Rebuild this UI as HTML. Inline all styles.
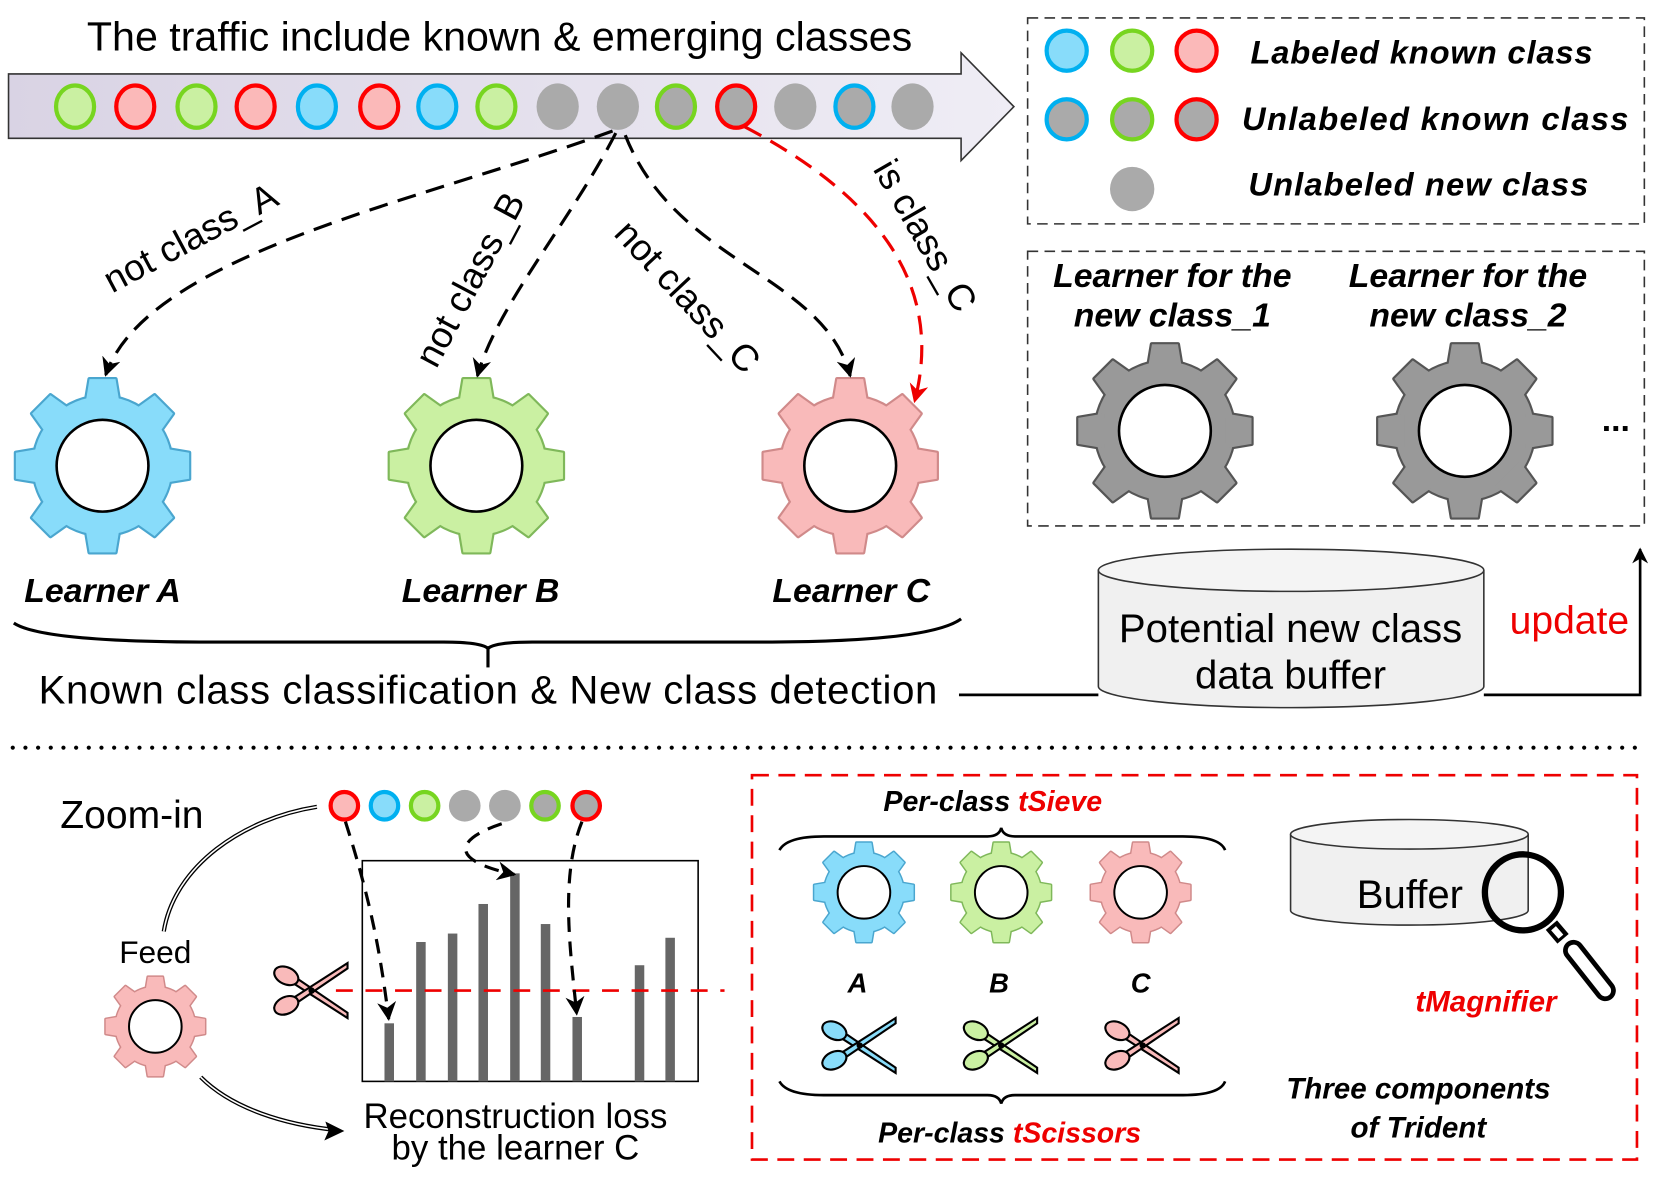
<!DOCTYPE html>
<html><head><meta charset="utf-8"><style>
html,body{margin:0;padding:0;background:#fff}
svg{display:block}
text{font-family:"Liberation Sans",sans-serif}
.bi{font-style:italic;font-weight:bold}
</style></head><body>
<svg width="1655" height="1187" viewBox="0 0 1567 1124" xmlns="http://www.w3.org/2000/svg">
<defs>
<linearGradient id="ag" x1="0" x2="1"><stop offset="0" stop-color="#d9d3e4"/><stop offset="1" stop-color="#efedf5"/></linearGradient>
<g id="gshape">
<circle r="0.8"/>
<g id="tooth"><polygon points="-0.2,-0.7 -0.15,-1 0.15,-1 0.2,-0.7"/></g>
<use href="#tooth" transform="rotate(45)"/><use href="#tooth" transform="rotate(90)"/><use href="#tooth" transform="rotate(135)"/>
<use href="#tooth" transform="rotate(180)"/><use href="#tooth" transform="rotate(225)"/><use href="#tooth" transform="rotate(270)"/><use href="#tooth" transform="rotate(315)"/>
</g>
<marker id="ah" viewBox="0 0 10 10" refX="9" refY="5" markerWidth="6" markerHeight="6" orient="auto-start-reverse"><path d="M0,0 L10,5 L0,10 L3,5z" fill="#000"/></marker>
<marker id="ahr" viewBox="0 0 10 10" refX="9" refY="5" markerWidth="6" markerHeight="6" orient="auto"><path d="M0,0 L10,5 L0,10 L3,5z" fill="#e00"/></marker>
<g id="sc">
<polygon points="-16,-13 34,21 34,26 -19,-8" />
<polygon points="-16,13 34,-21 34,-26 -19,8" />
<ellipse cx="-24" cy="-14" rx="12" ry="8" transform="rotate(25 -24 -14)"/>
<ellipse cx="-24" cy="14" rx="12" ry="8" transform="rotate(-25 -24 14)"/>
<circle r="2" fill="#000"/>
</g>
</defs>

<g stroke-linejoin="round">
<g transform="translate(97,441) scale(82)"><use href="#gshape" fill="#4aa6cf" stroke="#4aa6cf" stroke-width="0.05"/><use href="#gshape" fill="#88dcfa"/><circle r="0.53" fill="#fff" stroke="#000" stroke-width="0.03"/></g>
<g transform="translate(451,441) scale(82)"><use href="#gshape" fill="#7fb85a" stroke="#7fb85a" stroke-width="0.05"/><use href="#gshape" fill="#caf0a2"/><circle r="0.53" fill="#fff" stroke="#000" stroke-width="0.03"/></g>
<g transform="translate(805,441) scale(82)"><use href="#gshape" fill="#d08a8a" stroke="#d08a8a" stroke-width="0.05"/><use href="#gshape" fill="#f9baba"/><circle r="0.53" fill="#fff" stroke="#000" stroke-width="0.03"/></g>
<g transform="translate(1103,408) scale(82)"><use href="#gshape" fill="#555" stroke="#555" stroke-width="0.05"/><use href="#gshape" fill="#999"/><circle r="0.53" fill="#fff" stroke="#000" stroke-width="0.03"/></g>
<g transform="translate(1387,408) scale(82)"><use href="#gshape" fill="#555" stroke="#555" stroke-width="0.05"/><use href="#gshape" fill="#999"/><circle r="0.53" fill="#fff" stroke="#000" stroke-width="0.03"/></g>
<g transform="translate(147,972) scale(47)"><use href="#gshape" fill="#d08a8a" stroke="#d08a8a" stroke-width="0.06"/><use href="#gshape" fill="#f9baba"/><circle r="0.53" fill="#fff" stroke="#000" stroke-width="0.04"/></g>
<g transform="translate(818,845) scale(47)"><use href="#gshape" fill="#4aa6cf" stroke="#4aa6cf" stroke-width="0.06"/><use href="#gshape" fill="#88dcfa"/><circle r="0.53" fill="#fff" stroke="#000" stroke-width="0.04"/></g>
<g transform="translate(948,845) scale(47)"><use href="#gshape" fill="#7fb85a" stroke="#7fb85a" stroke-width="0.06"/><use href="#gshape" fill="#caf0a2"/><circle r="0.53" fill="#fff" stroke="#000" stroke-width="0.04"/></g>
<g transform="translate(1080,845) scale(47)"><use href="#gshape" fill="#d08a8a" stroke="#d08a8a" stroke-width="0.06"/><use href="#gshape" fill="#f9baba"/><circle r="0.53" fill="#fff" stroke="#000" stroke-width="0.04"/></g>
</g>

<text x="473" y="48" font-size="39" text-anchor="middle">The traffic include known &amp; emerging classes</text>
<path d="M8,70 H910 V50 L960,101 L910,152 V131 H8 Z" fill="url(#ag)" stroke="#333" stroke-width="1.5"/>
<g stroke-width="4">
<ellipse cx="71" cy="101" rx="18" ry="20" fill="#caf0a2" stroke="#77d520"/>
<ellipse cx="128" cy="101" rx="18" ry="20" fill="#fbb9b9" stroke="#f00"/>
<ellipse cx="186" cy="101" rx="18" ry="20" fill="#caf0a2" stroke="#77d520"/>
<ellipse cx="242" cy="101" rx="18" ry="20" fill="#fbb9b9" stroke="#f00"/>
<ellipse cx="300" cy="101" rx="18" ry="20" fill="#88dcfa" stroke="#00b0f0"/>
<ellipse cx="359" cy="101" rx="18" ry="20" fill="#fbb9b9" stroke="#f00"/>
<ellipse cx="414" cy="101" rx="18" ry="20" fill="#88dcfa" stroke="#00b0f0"/>
<ellipse cx="470" cy="101" rx="18" ry="20" fill="#caf0a2" stroke="#77d520"/>
<ellipse cx="528" cy="101" rx="20" ry="22" fill="#aaa"/>
<ellipse cx="585" cy="101" rx="20" ry="22" fill="#aaa"/>
<ellipse cx="640" cy="101" rx="18" ry="20" fill="#aaa" stroke="#77d520"/>
<ellipse cx="697" cy="101" rx="18" ry="20" fill="#aaa" stroke="#f00"/>
<ellipse cx="753" cy="101" rx="20" ry="22" fill="#aaa"/>
<ellipse cx="809" cy="101" rx="18" ry="20" fill="#aaa" stroke="#00b0f0"/>
<ellipse cx="864" cy="101" rx="20" ry="22" fill="#aaa"/>
</g>

<rect x="973" y="17" width="584" height="195" fill="none" stroke="#333" stroke-width="1.5" stroke-dasharray="10,6"/>
<g stroke-width="4">
<circle cx="1010" cy="48" r="19" fill="#88dcfa" stroke="#00b0f0"/>
<circle cx="1072" cy="48" r="19" fill="#caf0a2" stroke="#77d520"/>
<circle cx="1133" cy="48" r="19" fill="#fbb9b9" stroke="#f00"/>
<circle cx="1010" cy="113" r="19" fill="#aaa" stroke="#00b0f0"/>
<circle cx="1072" cy="113" r="19" fill="#aaa" stroke="#77d520"/>
<circle cx="1133" cy="113" r="19" fill="#aaa" stroke="#f00"/>
<circle cx="1072" cy="179" r="21" fill="#aaa"/>
</g>
<text class="bi" x="1184" y="60" font-size="31" textLength="324">Labeled known class</text>
<text class="bi" x="1176" y="123" font-size="31" textLength="366">Unlabeled known class</text>
<text class="bi" x="1182" y="185" font-size="31" textLength="322">Unlabeled new class</text>

<rect x="973" y="238" width="584" height="260" fill="none" stroke="#333" stroke-width="1.5" stroke-dasharray="10,6"/>
<text class="bi" x="1110" y="272" font-size="32" text-anchor="middle">Learner for the</text>
<text class="bi" x="1110" y="309" font-size="32" text-anchor="middle">new class_1</text>
<text class="bi" x="1390" y="272" font-size="32" text-anchor="middle">Learner for the</text>
<text class="bi" x="1390" y="309" font-size="32" text-anchor="middle">new class_2</text>
<text x="1530" y="408" font-size="32" text-anchor="middle" font-weight="bold">...</text>

<g fill="none" stroke="#000" stroke-width="3" stroke-dasharray="18,10">
<path d="M580,124 C400,190 140,240 100,355" marker-end="url(#ah)"/>
<path d="M583,126 C540,210 470,290 452,356" marker-end="url(#ah)"/>
<path d="M592,128 C640,250 780,260 805,356" marker-end="url(#ah)"/>
</g>
<path d="M705,120 C800,170 900,250 866,380" fill="none" stroke="#e00" stroke-width="3" stroke-dasharray="18,10" marker-end="url(#ahr)"/>
<text x="0" y="0" font-size="35" transform="translate(106,278) rotate(-28)">not class_A</text>
<text x="0" y="0" font-size="35" transform="translate(413,350) rotate(-62)">not class_B</text>
<text x="0" y="0" font-size="35" transform="translate(580,222) rotate(47)">not class_C</text>
<text x="0" y="0" font-size="35" transform="translate(826,160) rotate(60)">is class_C</text>

<text class="bi" x="97" y="570" font-size="32" text-anchor="middle">Learner A</text>
<text class="bi" x="455" y="570" font-size="32" text-anchor="middle">Learner B</text>
<text class="bi" x="806" y="570" font-size="32" text-anchor="middle">Learner C</text>

<path d="M13,590 Q40,608 200,608 L420,608 Q455,608 462,614 Q469,608 504,608 L720,608 Q880,608 910,586" fill="none" stroke="#000" stroke-width="3"/>
<line x1="462" y1="612" x2="462" y2="632" stroke="#000" stroke-width="3"/>
<text x="462" y="666" font-size="38" text-anchor="middle" textLength="851">Known class classification &amp; New class detection</text>

<line x1="908" y1="658" x2="1040" y2="658" stroke="#000" stroke-width="2.5"/>
<path d="M1405,658 H1553 V520" fill="none" stroke="#000" stroke-width="2.5" marker-end="url(#ah)"/>
<path d="M1040,540 V650 A182,20 0 0 0 1405,650 V540" fill="#f0f0f0" stroke="#333" stroke-width="1.5"/>
<ellipse cx="1222.5" cy="540" rx="182.5" ry="20" fill="#f4f4f4" stroke="#333" stroke-width="1.5"/>
<text x="1222" y="608" font-size="38" text-anchor="middle">Potential new class</text>
<text x="1222" y="652" font-size="38" text-anchor="middle">data buffer</text>
<text x="1486" y="600" font-size="37" text-anchor="middle" fill="#e00">update</text>

<line x1="12" y1="708" x2="1552" y2="708" stroke="#000" stroke-width="4" stroke-linecap="round" stroke-dasharray="0,12"/>

<text x="57" y="784" font-size="37">Zoom-in</text>
<g stroke-width="4">
<circle cx="326" cy="763" r="13" fill="#fbb9b9" stroke="#f00"/>
<circle cx="364" cy="763" r="13" fill="#88dcfa" stroke="#00b0f0"/>
<circle cx="402" cy="763" r="13" fill="#caf0a2" stroke="#77d520"/>
<circle cx="440" cy="763" r="15" fill="#aaa"/>
<circle cx="478" cy="763" r="15" fill="#aaa"/>
<circle cx="516" cy="763" r="13" fill="#aaa" stroke="#77d520"/>
<circle cx="555" cy="763" r="13" fill="#aaa" stroke="#f00"/>
</g>
<path d="M300,764 C230,775 165,820 155,882" fill="none" stroke="#000" stroke-width="4"/>
<path d="M300,764 C230,775 165,820 155,882" fill="none" stroke="#fff" stroke-width="1.5"/>
<text x="147" y="912" font-size="30" text-anchor="middle">Feed</text>
<path d="M190,1020 C220,1050 270,1065 318,1070" fill="none" stroke="#000" stroke-width="4"/>
<path d="M190,1020 C220,1050 270,1065 318,1070" fill="none" stroke="#fff" stroke-width="1.5"/>
<path d="M326,1071 L308,1062 L311,1071 L307,1080 Z" fill="#000"/>

<rect x="343" y="815" width="318" height="209" fill="#fff" stroke="#000" stroke-width="1.5"/>
<g fill="#666">
<rect x="364" y="969" width="9" height="55"/><rect x="394" y="892" width="9" height="132"/>
<rect x="424" y="884" width="9" height="140"/><rect x="453" y="856" width="9" height="168"/>
<rect x="483" y="827" width="9" height="197"/><rect x="512" y="875" width="9" height="149"/>
<rect x="542" y="963" width="9" height="61"/><rect x="601" y="914" width="9" height="110"/>
<rect x="630" y="888" width="9" height="136"/>
</g>
<line x1="318" y1="938" x2="686" y2="938" stroke="#e00" stroke-width="2.5" stroke-dasharray="16,12"/>
<g fill="none" stroke="#000" stroke-width="3" stroke-dasharray="14,9">
<path d="M327,778 C350,850 360,900 368,965" marker-end="url(#ah)"/>
<path d="M475,780 C430,795 425,815 487,828" marker-end="url(#ah)"/>
<path d="M551,778 C530,830 540,900 546,960" marker-end="url(#ah)"/>
</g>
<g transform="translate(295,938)" fill="#f9baba" stroke="#000" stroke-width="2"><use href="#sc"/></g>
<text x="488" y="1068" font-size="33" text-anchor="middle">Reconstruction loss</text>
<text x="488" y="1098" font-size="33" text-anchor="middle">by the learner C</text>

<rect x="712" y="734" width="838" height="364" fill="none" stroke="#e00" stroke-width="2.5" stroke-dasharray="16,9"/>
<text class="bi" x="940" y="768" font-size="27" text-anchor="middle">Per-class <tspan fill="#e00">tSieve</tspan></text>
<path d="M738,805 Q745,792 780,792 L935,792 Q946,792 948,784 Q950,792 961,792 L1120,792 Q1155,792 1160,805" fill="none" stroke="#000" stroke-width="2.5"/>
<path d="M738,1024 Q745,1037 780,1037 L935,1037 Q946,1037 948,1045 Q950,1037 961,1037 L1120,1037 Q1155,1037 1160,1024" fill="none" stroke="#000" stroke-width="2.5"/>
<text class="bi" x="956" y="1082" font-size="27" text-anchor="middle">Per-class <tspan fill="#e00">tScissors</tspan></text>
<text class="bi" x="812" y="940" font-size="26" text-anchor="middle">A</text>
<text class="bi" x="946" y="940" font-size="26" text-anchor="middle">B</text>
<text class="bi" x="1080" y="940" font-size="26" text-anchor="middle">C</text>
<g transform="translate(814,990)" fill="#88dcfa" stroke="#000" stroke-width="2"><use href="#sc"/></g>
<g transform="translate(948,990)" fill="#caf0a2" stroke="#000" stroke-width="2"><use href="#sc"/></g>
<g transform="translate(1082,990)" fill="#f9baba" stroke="#000" stroke-width="2"><use href="#sc"/></g>

<path d="M1222,790 V862 A112.5,14 0 0 0 1447,862 V790" fill="#f0f0f0" stroke="#333" stroke-width="1.5"/>
<ellipse cx="1334.5" cy="790" rx="112.5" ry="14" fill="#f4f4f4" stroke="#333" stroke-width="1.5"/>
<text x="1335" y="860" font-size="38" text-anchor="middle">Buffer</text>
<line x1="1469" y1="876" x2="1480" y2="889" stroke="#000" stroke-width="14"/>
<line x1="1471" y1="879" x2="1478" y2="887" stroke="#fff" stroke-width="6"/>
<line x1="1490" y1="900" x2="1520" y2="938" stroke="#000" stroke-width="20" stroke-linecap="round"/>
<line x1="1490" y1="900" x2="1520" y2="938" stroke="#fff" stroke-width="11" stroke-linecap="round"/>
<circle cx="1442" cy="845" r="36" fill="none" stroke="#000" stroke-width="6"/>
<text class="bi" x="1407" y="958" font-size="28" text-anchor="middle" fill="#e00">tMagnifier</text>
<text class="bi" x="1343" y="1040" font-size="28" text-anchor="middle">Three components</text>
<text class="bi" x="1343" y="1077" font-size="28" text-anchor="middle">of Trident</text>
</svg>
</body></html>
